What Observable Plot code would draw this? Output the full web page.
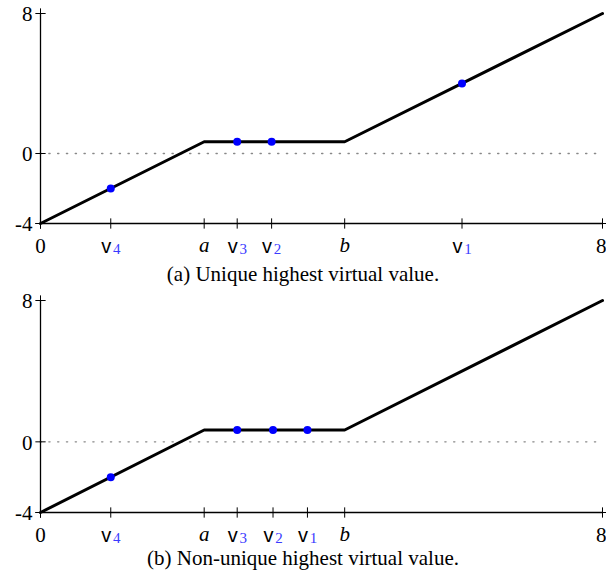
<!DOCTYPE html>
<html><head><meta charset="utf-8">
<script src="https://cdn.jsdelivr.net/npm/d3@7"></script>
<script src="https://cdn.jsdelivr.net/npm/@observablehq/plot@0.6"></script>
<style>
body{margin:0;background:#fff;}
#chart{position:relative;width:606px;height:580px;overflow:hidden;}
#chart svg{position:absolute;left:0;}
.cap{position:absolute;left:0;font-family:"Liberation Serif",serif;font-size:21px;text-align:center;width:606px;color:#000;height:26px;line-height:26px;}
</style></head><body><div id="chart"></div>
<script>
// piecewise-linear curve
const curveX = [0, 2.33, 4.33, 8];
const curveY = [-4, 0.67, 0.67, 8];
// y-axis ticks
const yTicks = [-4, 0, 8];
// panel (a)
const aPointX = [6.0, 3.29, 2.8, 1.0];
const aPointY = [4.0, 0.67, 0.67, -2.0];
const aPlainX = [0, 2.33, 4.33, 8];
const aPlainLabel = ["0", "a", "b", "8"];
const aPlainItalic = [false, true, true, false];
const aVX = [6.0, 3.29, 2.8, 1.0];
const aVSub = ["1", "2", "3", "4"];
const aCaption = "(a) Unique highest virtual value.";
// panel (b)
const bPointX = [3.8, 3.31, 2.8, 1.0];
const bPointY = [0.67, 0.67, 0.67, -2.0];
const bPlainX = [0, 2.33, 4.33, 8];
const bPlainLabel = ["0", "a", "b", "8"];
const bPlainItalic = [false, true, true, false];
const bVX = [3.8, 3.31, 2.8, 1.0];
const bVSub = ["1", "2", "3", "4"];
const bCaption = "(b) Non-unique highest virtual value.";

const SERIF = "Liberation Serif, serif";
const SANS = "Liberation Sans, sans-serif";

function panel(p) {
  const curve = curveX.map((x, i) => ({x, y: curveY[i]}));
  const pts = p.px.map((x, i) => ({x, y: p.py[i]}));
  const plain = p.plainX.map((x, i) => ({x, label: p.plainLabel[i], italic: p.plainItalic[i]}));
  const vs = p.vx.map((x, i) => ({x, sub: p.vsub[i]}));
  const allTicks = [...p.plainX, ...p.vx];
  const xMax = 8;
  const svg = Plot.plot({
    width: 606,
    height: 13 + p.h + 34,
    marginLeft: 40, marginRight: 4, marginTop: 13, marginBottom: 34,
    x: {domain: [0, xMax], axis: null},
    y: {domain: [-4, 8], axis: null},
    style: {background: "transparent", overflow: "visible"},
    marks: [
      Plot.ruleY([0], {stroke: "#888", strokeWidth: 1.3, strokeDasharray: "1.3,7.5", strokeLinecap: "round"}),
      Plot.ruleX([0], {stroke: "black", strokeWidth: 1.3}),
      Plot.ruleY([-4], {stroke: "black", strokeWidth: 1.3}),
      Plot.dot(allTicks, {x: d => d, y: () => -4, symbol: "plus", r: 3.4, stroke: "black", strokeWidth: 1}),
      Plot.dot(yTicks, {x: () => 0, y: d => d, symbol: "plus", r: 3.4, stroke: "black", strokeWidth: 1}),
      Plot.line(curve, {x: "x", y: "y", stroke: "black", strokeWidth: 3, strokeLinejoin: "miter"}),
      Plot.dot(pts, {x: "x", y: "y", r: 4, fill: "#0000ff"}),
      Plot.text(yTicks, {x: () => 0, y: d => d, text: d => String(d), textAnchor: "end", dx: -8, dy: 1, fontSize: 21, fontFamily: SERIF, fill: "black"}),
      Plot.text(plain.filter(d => !d.italic && d.x < xMax), {x: "x", y: () => -4, text: "label", dy: 23, fontSize: 21, fontFamily: SERIF, fill: "black"}),
      Plot.text(plain.filter(d => !d.italic && d.x >= xMax), {x: "x", y: () => -4, text: "label", dy: 23, textAnchor: "end", dx: 4, fontSize: 21, fontFamily: SERIF, fill: "black"}),
      Plot.text(plain.filter(d => d.italic), {x: "x", y: () => -4, text: "label", dy: 22, fontSize: 21, fontFamily: SERIF, fontStyle: "italic", fill: "black"}),
      Plot.text(vs, {x: "x", y: () => -4, text: () => "v", dy: 23, dx: -4.5, fontSize: 20, fontFamily: SANS, fill: "black"}),
      Plot.text(vs, {x: "x", y: () => -4, text: "sub", dy: 26, dx: 6, fontSize: 15, fontFamily: SERIF, fill: "#3a3aff"})
    ]
  });
  svg.style.top = p.top + "px";
  return svg;
}

const root = document.getElementById("chart");
root.appendChild(panel({top: 0, h: 210, px: aPointX, py: aPointY, plainX: aPlainX, plainLabel: aPlainLabel, plainItalic: aPlainItalic, vx: aVX, vsub: aVSub}));
root.appendChild(panel({top: 287, h: 212, px: bPointX, py: bPointY, plainX: bPlainX, plainLabel: bPlainLabel, plainItalic: bPlainItalic, vx: bVX, vsub: bVSub}));
const c1 = document.createElement("div");
c1.className = "cap"; c1.style.top = "261px"; c1.textContent = aCaption;
root.appendChild(c1);
const c2 = document.createElement("div");
c2.className = "cap"; c2.style.top = "545px"; c2.textContent = bCaption;
root.appendChild(c2);
</script></body></html>
